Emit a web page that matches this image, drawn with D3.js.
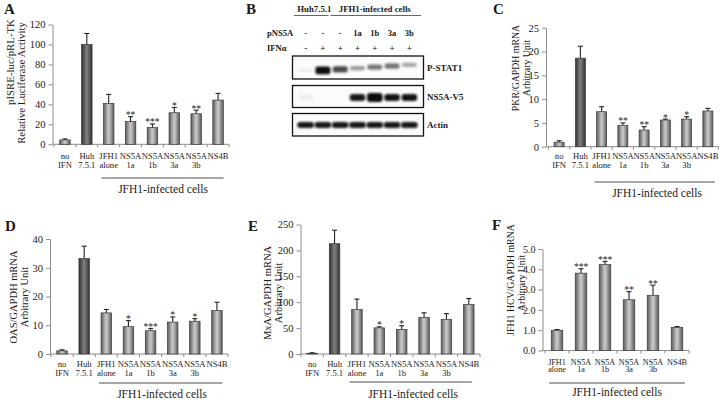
<!DOCTYPE html>
<html><head><meta charset="utf-8">
<script src="https://cdn.jsdelivr.net/npm/d3@7"></script>
<style>body{margin:0;background:#fff}svg{display:block}svg text{font-family:"Liberation Serif","Times New Roman",serif !important;fill:#1a1a1a}</style>
</head><body>
<script>
// ---------- DATA ----------
const cats8 = ["no\nIFN","Huh\n7.5.1","JFH1\nalone","NS5A\n1a","NS5A\n1b","NS5A\n3a","NS5A\n3b","NS4B"];
const cats6 = ["JFH1\nalone","NS5A\n1a","NS5A\n1b","NS5A\n3a","NS5A\n3b","NS4B"];

const valA = [4.4, 100, 41, 22.7, 16.8, 31.6, 30.6, 44.3];
const errA = [1.0, 11, 9, 5, 3.6, 5.3, 3.6, 6.7];
const starA = ["","","","**","***","*","**",""];
const ticksA = [0,20,40,60,80,100,120];

const valC = [0.95, 18.6, 7.35, 4.5, 3.5, 5.6, 5.8, 7.5];
const errC = [0.3, 2.5, 1.05, 0.5, 0.7, 0.2, 0.5, 0.55];
const starC = ["","","","**","**","*","*",""];
const ticksC = [0,5,10,15,20,25];

const valD = [1.1, 33.2, 14.3, 9.5, 8.1, 11.1, 11.4, 15.1];
const errD = [0.35, 4.3, 1.2, 2.1, 0.8, 1.8, 0.9, 2.9];
const starD = ["","","","*","***","*","*",""];
const ticksD = [0,10,20,30,40];

const valE = [1.5, 213, 86, 50.5, 47.5, 70.5, 67, 95.5];
const errE = [0.8, 26, 20, 2, 7, 9, 11, 11.5];
const starE = ["","","","*","*","","",""];
const ticksE = [0,50,100,150,200,250];

const valF = [1.0, 3.81, 4.23, 2.5, 2.72, 1.14];
const errF = [0.03, 0.22, 0.16, 0.4, 0.5, 0.04];
const starF = ["","***","***","**","**",""];
const ticksF = [0,1,2,3,4,5];

const groupLabel = "JFH1-infected cells";

// Western blot (panel B)
const laneNS5A = ["-","-","-","1a","1b","3a","3b"];
const laneIFN  = ["-","+","+","+","+","+","+"];
const blotRows = ["P-STAT1","NS5A-V5","Actin"];
const bandPSTAT1 = [0.06, 1.0, 0.75, 0.4, 0.55, 0.55, 0.35];
const bandNS5A   = [0.04, 0.0, 0.0, 0.95, 1.0, 0.97, 0.97];
const bandActin  = [0.95, 0.95, 0.95, 0.95, 0.95, 0.95, 0.95];

// ---------- DRAW ----------
const FONT = '"Liberation Serif","Times New Roman",serif';
const svg = d3.select("body").append("svg").attr("width",720).attr("height",400)
  .style("font-family",FONT);
const defs = svg.append("defs");
function grad(id, edge, mid){
  const g = defs.append("linearGradient").attr("id",id).attr("x1","0").attr("x2","1").attr("y1","0").attr("y2","0");
  g.append("stop").attr("offset","0%").attr("stop-color",edge);
  g.append("stop").attr("offset","45%").attr("stop-color",mid);
  g.append("stop").attr("offset","55%").attr("stop-color",mid);
  g.append("stop").attr("offset","100%").attr("stop-color",edge);
}
grad("gLight","#5a5a5a","#c4c4c4");
grad("gDark","#303030","#7a7a7a");
defs.append("filter").attr("id","blur").attr("x","-50%").attr("y","-50%").attr("width","200%").attr("height","200%")
  .append("feGaussianBlur").attr("stdDeviation",0.9);

const axisCol = "#8c8c8c";

function barPanel(p){
  const g = svg.append("g");
  const x = d3.scaleBand().domain(p.cats).range(p.xr);
  const y = d3.scaleLinear().domain([0, p.ticks[p.ticks.length-1]]).range(p.yr);
  // y axis
  const ya = g.append("g").attr("transform",`translate(${p.axisX},0)`)
    .call(d3.axisLeft(y).tickValues(p.ticks).tickSize(4).tickSizeOuter(0).tickPadding(3));
  ya.attr("font-family",FONT);
  ya.select(".domain").attr("stroke",axisCol);
  ya.selectAll(".tick line").attr("stroke",axisCol);
  ya.selectAll(".tick text").style("font-family",FONT).attr("font-size",p.tickFs||10.5).attr("fill","#222");
  // x axis line
  g.append("line").attr("x1",p.axisX).attr("x2",p.xr[1]).attr("y1",y(0)).attr("y2",y(0)).attr("stroke",axisCol);
  g.selectAll(".xt").data(d3.range(p.cats.length+1)).join("line")
    .attr("x1",i=>p.xr[0]+i*x.step()).attr("x2",i=>p.xr[0]+i*x.step())
    .attr("y1",y(0)).attr("y2",y(0)+3).attr("stroke",axisCol);
  const bw = p.bw;
  const cx = c => x(c)+x.bandwidth()/2;
  // bars
  g.selectAll(".bar").data(p.cats).join("rect")
    .attr("x",c=>cx(c)-bw/2).attr("width",bw)
    .attr("y",(c,i)=>y(p.vals[i])).attr("height",(c,i)=>y(0)-y(p.vals[i]))
    .attr("fill",c=>c.startsWith("Huh")?"url(#gDark)":"url(#gLight)")
    .attr("stroke","#3a3a3a").attr("stroke-width",0.7);
  // error bars
  g.selectAll(".eb").data(p.cats).join("line")
    .attr("x1",cx).attr("x2",cx)
    .attr("y1",(c,i)=>y(p.vals[i])).attr("y2",(c,i)=>y(p.vals[i]+p.errs[i]))
    .attr("stroke","#222").attr("stroke-width",1.1);
  g.selectAll(".cap").data(p.cats).join("line")
    .attr("x1",c=>cx(c)-2.5).attr("x2",c=>cx(c)+2.5)
    .attr("y1",(c,i)=>y(p.vals[i]+p.errs[i])).attr("y2",(c,i)=>y(p.vals[i]+p.errs[i]))
    .attr("stroke","#222").attr("stroke-width",1.1);
  // stars
  g.selectAll(".st").data(p.cats).join("text")
    .attr("x",cx).attr("y",(c,i)=>y(p.vals[i]+p.errs[i])+1.5)
    .attr("text-anchor","middle").attr("font-size",9.5)
    .text((c,i)=>p.stars[i]);
  // category labels
  g.selectAll(".cl").data(p.cats).join("text")
    .attr("text-anchor","middle").attr("font-size",p.catFs)
    .each(function(c){
      const t = d3.select(this);
      c.split("\n").forEach((s,k)=>{
        t.append("tspan").attr("x",cx(c)).attr("y",y(0)+p.lblOff[k]).text(s);
      });
    });
  // bracket
  const c1 = p.cats.find(c=>c.startsWith("JFH1")), c2 = p.cats[p.cats.length-1];
  const bx1 = cx(c1)-0.33*x.step(), bx2 = cx(c2)+p.brR*x.step();
  g.append("line").attr("x1",bx1).attr("x2",bx2).attr("y1",p.brY).attr("y2",p.brY)
    .attr("stroke","#8a8a8a").attr("stroke-width",1.6);
  g.append("text").attr("x",p.brTx).attr("y",p.brTy).attr("text-anchor","middle")
    .attr("font-size",11.5).text(groupLabel);
  // y label
  p.ylab.forEach((s,k)=>{
    g.append("text").attr("transform",`translate(${p.ylx[k]},${p.yly[k]}) rotate(-90)`)
      .attr("text-anchor","middle").attr("dominant-baseline","central")
      .attr("font-size",p.ylFs||10.5).text(s);
  });
  // panel letter
  g.append("text").attr("x",p.letter[1]).attr("y",p.letter[2]).attr("font-size",15)
    .attr("font-weight","bold").text(p.letter[0]);
}

barPanel({cats:cats8, vals:valA, errs:errA, stars:starA, ticks:ticksA,
  xr:[54,229], yr:[144.3,24.5], axisX:52.5, bw:10.5, catFs:8.6, lblOff:[14.5,23.5],
  brY:178, brR:0.25, brTx:163, brTy:193,
  ylab:["pISRE-luc/pRL-TK","Relative Luciferase Activity"], ylx:[10,21], yly:[62,83], ylFs:10.8,
  letter:["A",4,14]});

barPanel({cats:cats8, vals:valC, errs:errC, stars:starC, ticks:ticksC,
  xr:[548.5,718.5], yr:[146.7,27.7], axisX:546, bw:10, catFs:8.6, lblOff:[12.5,21],
  brY:182, brR:0.33, brTx:657, brTy:197,
  ylab:["PKR/GAPDH mRNA","Arbitrary Unit"], ylx:[515,526], yly:[68,68], ylFs:9.8,
  letter:["C",493,14]});

barPanel({cats:cats8, vals:valD, errs:errD, stars:starD, ticks:ticksD,
  xr:[51,228], yr:[354,239], axisX:50, bw:10.5, catFs:8.6, lblOff:[13,22],
  brY:383, brR:0.25, brTx:162, brTy:398,
  ylab:["OAS/GAPDH mRNA","Arbitrary Unit"], ylx:[13,24], yly:[297,297],
  letter:["D",5,231]});

barPanel({cats:cats8, vals:valE, errs:errE, stars:starE, ticks:ticksE,
  xr:[301,480], yr:[354,224.5], axisX:300.5, bw:10.5, catFs:8.6, lblOff:[13,22],
  brY:382, brR:0.15, brTx:413, brTy:398,
  ylab:["MxA/GAPDH mRNA","Arbitrary Unit"], ylx:[267,278.5], yly:[293,293],
  letter:["E",248,231]});

barPanel({cats:cats6, vals:valF, errs:errF, stars:starF, ticks:ticksF,
  xr:[545,689], yr:[350.5,249], axisX:542.5, bw:11.5, catFs:8.2, lblOff:[14,21.5],
  brY:383, brR:0.33, brTx:617, brTy:396, tickFs:10,
  ylab:["JFH1 HCV/GAPDH mRNA","Arbitrary Unit"], ylx:[510,521], yly:[280,283], ylFs:9.8,
  letter:["F",492,230]});

// ---------- Panel B : western blot ----------
(function(){
  const g = svg.append("g");
  g.append("text").attr("x",246).attr("y",14).attr("font-size",15).attr("font-weight","bold").text("B");
  const lx = d3.scaleBand().domain(d3.range(laneNS5A.length)).range([297,418]);
  const lc = i => lx(i)+lx.bandwidth()/2;
  // group headers
  const hdr = [["Huh7.5.1",0,1],[groupLabel,2,6]];
  hdr.forEach(([t,a,b])=>{
    const x1 = lx(a)-3, x2 = lx(b)+lx.step()+3;
    g.append("text").attr("x",(lc(a)+lc(b))/2).attr("y",12).attr("text-anchor","middle")
      .attr("font-size",8.8).attr("font-weight","bold").text(t);
    g.append("line").attr("x1",x1+(a?2:0)).attr("x2",x2-(a?0:6)).attr("y1",15.5).attr("y2",15.5)
      .attr("stroke","#555").attr("stroke-width",0.9);
  });
  g.append("text").attr("x",267).attr("y",36).attr("font-size",8.6).attr("font-weight","bold").text("pNS5A");
  g.append("text").attr("x",267).attr("y",51).attr("font-size",8.6).attr("font-weight","bold").text("IFNα");
  g.selectAll(".ln").data(laneNS5A).join("text").attr("x",(d,i)=>lc(i)).attr("y",36)
    .attr("text-anchor","middle").attr("font-size",8.6).attr("font-weight","bold").text(d=>d);
  g.selectAll(".li").data(laneIFN).join("text").attr("x",(d,i)=>lc(i)).attr("y",51)
    .attr("text-anchor","middle").attr("font-size",9).attr("font-weight","bold").text(d=>d);

  const boxes = [{y:56,h:23},{y:85.5,h:22},{y:113.5,h:22.5}];
  boxes.forEach((b,r)=>{
    g.append("rect").attr("x",292.5).attr("y",b.y).attr("width",131).attr("height",b.h)
      .attr("fill","#fbfbfb").attr("stroke","#111").attr("stroke-width",1.3);
    g.append("text").attr("x",427).attr("y",b.y+b.h/2+3).attr("font-size",9).attr("font-weight","bold").text(blotRows[r]);
  });
  // P-STAT1 bands
  g.selectAll(".b1").data(bandPSTAT1).join("rect")
    .attr("x",(d,i)=>lc(i)-7.5).attr("width",15)
    .attr("y",(d,i)=>71.5-1.1*Math.max(i,1)-(1.2+2.6*d))
    .attr("height",d=>2.4+5.2*d).attr("rx",2.5)
    .attr("fill","#111").attr("opacity",d=>d).attr("filter","url(#blur)");
  // NS5A-V5 bands
  g.selectAll(".b2").data(bandNS5A).join("rect")
    .attr("x",(d,i)=>lc(i)-7.8).attr("width",15.6)
    .attr("y",(d,i)=>97.5-(i===4?4.5:3.5)).attr("height",(d,i)=>i===4?9:7).attr("rx",3)
    .attr("fill","#0a0a0a").attr("opacity",d=>d).attr("filter","url(#blur)");
  // Actin bands
  g.selectAll(".b3").data(bandActin).join("rect")
    .attr("x",(d,i)=>lc(i)-8.4).attr("width",16.8)
    .attr("y",122).attr("height",6).attr("rx",3)
    .attr("fill","#0a0a0a").attr("opacity",d=>d).attr("filter","url(#blur)");
})();
</script>
</body></html>
